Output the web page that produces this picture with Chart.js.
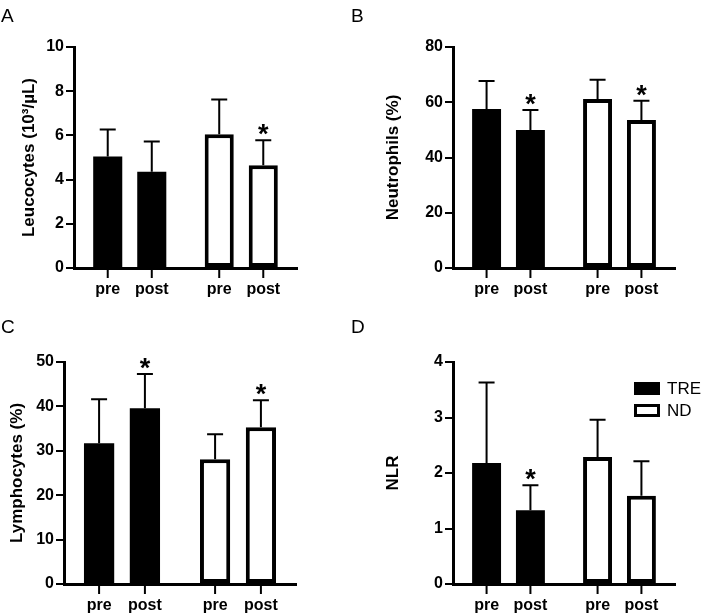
<!DOCTYPE html>
<html>
<head>
<meta charset="utf-8">
<script src="https://cdn.jsdelivr.net/npm/chart.js@4.4.0/dist/chart.umd.min.js"></script>
<style>
  body { margin: 0; background: #fff; width: 709px; height: 614px; position: relative; overflow: hidden; }
  canvas { position: absolute; }
</style>
</head>
<body>
<canvas id="chartA" width="350" height="307" style="left:0;top:0"></canvas>
<canvas id="chartB" width="359" height="307" style="left:350px;top:0"></canvas>
<canvas id="chartC" width="350" height="307" style="left:0;top:307px"></canvas>
<canvas id="chartD" width="359" height="307" style="left:350px;top:307px"></canvas>
<script>
// groups and time points
const groups = ['TRE', 'ND'];
const timepoints = ['pre', 'post'];

// values in order: TRE pre, TRE post, ND pre, ND post
const leucocyteMean = [5.05, 4.35, 6.05, 4.65];
const leucocyteSD = [1.22, 1.37, 1.58, 1.13];
const leucocyteStar = [false, false, false, true];
const leucocyteTicks = [0, 2, 4, 6, 8, 10];

const neutrophilMean = [57.6, 50.0, 61.2, 53.6];
const neutrophilSD = [10.1, 7.2, 6.9, 6.9];
const neutrophilStar = [false, true, false, true];
const neutrophilTicks = [0, 20, 40, 60, 80];

const lymphocyteMean = [31.7, 39.6, 28.1, 35.3];
const lymphocyteSD = [9.9, 7.7, 5.6, 6.1];
const lymphocyteStar = [false, true, false, true];
const lymphocyteTicks = [0, 10, 20, 30, 40, 50];

const nlrMean = [2.18, 1.33, 2.29, 1.59];
const nlrSD = [1.45, 0.45, 0.67, 0.62];
const nlrStar = [false, true, false, false];
const nlrTicks = [0, 1, 2, 3, 4];

const FONT = "'Liberation Sans', Arial, sans-serif";
const groupFill = { TRE: '#000000', ND: '#ffffff' };
const groupBorder = { TRE: 0, ND: 4 };

const panels = [
  { id: 'chartA', letter: 'A', title: 'Leucocytes (10\u00b3/\u00b5L)', mean: leucocyteMean, sd: leucocyteSD, star: leucocyteStar, ticks: leucocyteTicks,
    area: { left: 74, right: 297, top: 47, bottom: 268 }, titleX: 29, letterY: 7 },
  { id: 'chartB', letter: 'B', title: 'Neutrophils (%)', mean: neutrophilMean, sd: neutrophilSD, star: neutrophilStar, ticks: neutrophilTicks,
    area: { left: 103, right: 325, top: 47, bottom: 268 }, titleX: 43, letterY: 7 },
  { id: 'chartC', letter: 'C', title: 'Lymphocytes (%)', mean: lymphocyteMean, sd: lymphocyteSD, star: lymphocyteStar, ticks: lymphocyteTicks,
    area: { left: 64, right: 296, top: 55, bottom: 277 }, titleX: 17, letterY: 11 },
  { id: 'chartD', letter: 'D', title: 'NLR', mean: nlrMean, sd: nlrSD, star: nlrStar, ticks: nlrTicks,
    area: { left: 103, right: 325, top: 55, bottom: 277 }, titleX: 43, letterY: 11, legend: true }
];

// error bars, significance stars, x ticks + pre/post labels, panel letter, legend
const decorations = {
  id: 'decorations',
  afterDatasetsDraw(chart, args, opts) {
    const ctx = chart.ctx;
    const yScale = chart.scales.y;
    const p = opts.panel;
    ctx.save();
    ctx.strokeStyle = '#000';
    ctx.fillStyle = '#000';
    chart.data.datasets.forEach((ds, t) => {
      chart.getDatasetMeta(t).data.forEach((bar, g) => {
        const idx = g * 2 + t;
        const topY = yScale.getPixelForValue(p.mean[idx] + p.sd[idx]);
        ctx.lineWidth = 2;
        ctx.beginPath();
        ctx.moveTo(bar.x, bar.y);
        ctx.lineTo(bar.x, topY);
        ctx.moveTo(bar.x - 8, topY);
        ctx.lineTo(bar.x + 8, topY);
        ctx.stroke();
        if (p.star[idx]) {
          ctx.font = 'bold 27px ' + FONT;
          ctx.textAlign = 'center';
          ctx.textBaseline = 'alphabetic';
          ctx.fillText('*', bar.x, topY + 3);
        }
      });
    });
    ctx.restore();
  },
  afterDraw(chart, args, opts) {
    const ctx = chart.ctx;
    const p = opts.panel;
    const bottom = chart.chartArea.bottom;
    ctx.save();
    ctx.strokeStyle = '#000';
    ctx.fillStyle = '#000';
    chart.data.datasets.forEach((ds, t) => {
      chart.getDatasetMeta(t).data.forEach(bar => {
        ctx.lineWidth = 2;
        ctx.beginPath();
        ctx.moveTo(bar.x, bottom);
        ctx.lineTo(bar.x, bottom + 10);
        ctx.stroke();
        ctx.font = 'bold 16px ' + FONT;
        ctx.textAlign = 'center';
        ctx.textBaseline = 'middle';
        ctx.fillText(ds.label, bar.x, bottom + 22);
      });
    });
    ctx.font = '19px ' + FONT;
    ctx.textAlign = 'left';
    ctx.textBaseline = 'top';
    ctx.fillText(p.letter, 1, p.letterY);
    if (p.legend) {
      groups.forEach((g, i) => {
        const y = 75 + i * 22;
        ctx.fillStyle = '#000';
        ctx.fillRect(284, y, 26, 13);
        if (groupBorder[g]) {
          ctx.fillStyle = groupFill[g];
          ctx.fillRect(287, y + 3, 20, 7);
        }
        ctx.fillStyle = '#000';
        ctx.font = '17px ' + FONT;
        ctx.textBaseline = 'middle';
        ctx.fillText(g, 317, y + 7);
      });
    }
    ctx.restore();
  }
};

panels.forEach(p => {
  const canvas = document.getElementById(p.id);
  const W = canvas.width, H = canvas.height;
  const datasets = timepoints.map((tp, t) => ({
    label: tp,
    data: groups.map((g, gi) => p.mean[gi * 2 + t]),
    backgroundColor: groups.map(g => groupFill[g]),
    borderColor: '#000',
    borderWidth: groups.map(g => groupBorder[g]),
    borderSkipped: false,
    categoryPercentage: 0.79,
    barPercentage: 0.66
  }));

  new Chart(canvas, {
    type: 'bar',
    data: { labels: groups, datasets },
    plugins: [decorations],
    options: {
      responsive: false,
      animation: false,
      events: [],
      layout: { padding: { left: 0, top: p.area.top, right: W - p.area.right, bottom: 0 } },
      plugins: {
        legend: { display: false },
        tooltip: { enabled: false },
        decorations: { panel: p }
      },
      scales: {
        x: {
          ticks: { display: false },
          grid: { display: false },
          border: { color: '#000', width: 3 },
          afterFit: s => { s.height = H - p.area.bottom; }
        },
        y: {
          min: p.ticks[0],
          max: p.ticks[p.ticks.length - 1],
          ticks: { stepSize: p.ticks[1] - p.ticks[0], color: '#000', padding: 2,
                   font: { family: FONT, size: 16, weight: 'bold' } },
          grid: { drawOnChartArea: false, tickLength: 8, color: '#000', lineWidth: 2 },
          border: { color: '#000', width: 3 },
          title: { display: true, text: p.title, color: '#000',
                   font: { family: FONT, size: 17, weight: 'bold' },
                   padding: { top: p.titleX - 10, bottom: 0 } },
          afterFit: s => { s.width = p.area.left; }
        }
      }
    }
  });
});
</script>
</body>
</html>
